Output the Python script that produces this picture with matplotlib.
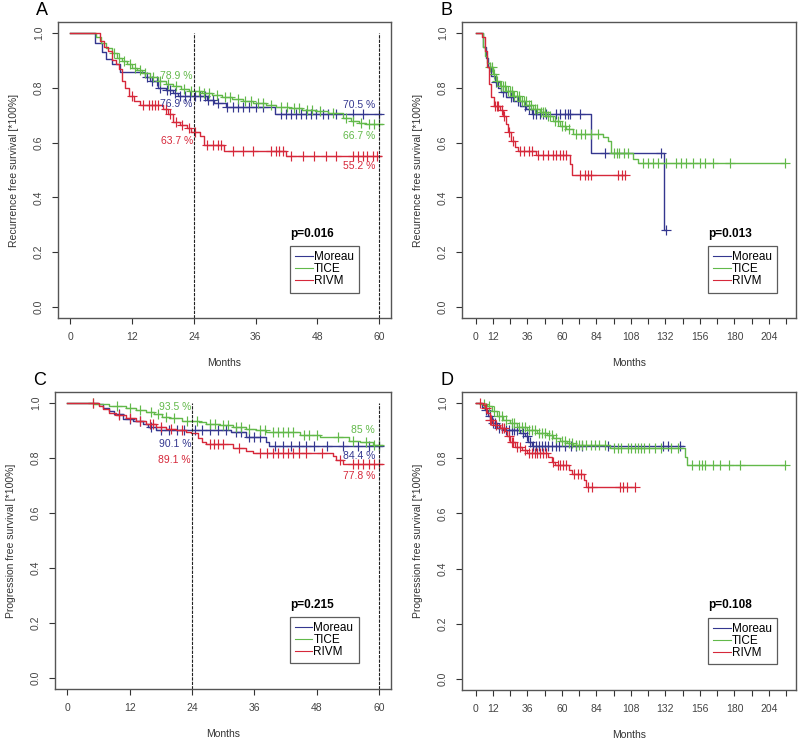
import numpy as np
import matplotlib

matplotlib.use("Agg")
import matplotlib.pyplot as plt  # noqa: E402

plt.rcParams["font.family"] = ["Liberation Sans", "DejaVu Sans"]

BLUE = "#34378f"
GREEN = "#62b94a"
RED = "#d6283a"
GROUPS = ["Moreau", "TICE", "RIVM"]

# ---- Panel A: recurrence free survival, 0-60 months
A_moreau_t = [0, 4.8, 6.1, 7.0, 8.1, 9.7, 14.5, 15.5, 17.0, 18.5, 20.0, 21.0, 26.5, 28.0, 30.3, 39.7, 60.3]
A_moreau_s = [1.0, 0.965, 0.929, 0.905, 0.886, 0.856, 0.84, 0.825, 0.80, 0.79, 0.78, 0.769, 0.757, 0.745, 0.731, 0.705, 0.705]
A_moreau_c = [14.8, 15.8, 16.8, 17.4, 18.7, 19.3, 20.3, 21.3, 22.2, 23.2, 24.2, 25.1, 26.1, 26.8, 27.7, 28.7, 30.5,
              31.6, 32.6, 33.5, 34.8, 36.1, 37.4, 41.0, 41.9, 42.9, 43.9, 44.8, 45.8, 46.8, 47.7, 49.0, 50.0, 51.6,
              54.9, 56.8, 60.0]
A_tice_t = [0, 5.0, 6.0, 7.0, 8.0, 9.0, 10.0, 11.0, 12.0, 13.0, 14.0, 15.5, 17.0, 18.5, 20.0, 21.5, 23.0, 25.5, 27.5,
            29.5, 31.5, 33.5, 35.5, 38.0, 40.0, 42.5, 45.0, 47.5, 50.0, 52.9, 54.5, 56.0, 57.5, 60.5]
A_tice_s = [1.0, 0.985, 0.965, 0.945, 0.925, 0.91, 0.898, 0.885, 0.873, 0.864, 0.855, 0.84, 0.825, 0.815, 0.805, 0.797,
            0.789, 0.78, 0.772, 0.765, 0.758, 0.752, 0.746, 0.738, 0.731, 0.725, 0.719, 0.714, 0.708, 0.69, 0.68,
            0.672, 0.667, 0.667]
A_tice_c = [8.5, 9.5, 10.5, 11.5, 12.5, 13.5, 14.5, 16.0, 17.5, 19.0, 20.5, 22.0, 23.5, 25.0, 26.0, 27.0, 28.5, 30.0,
            31.0, 32.5, 34.0, 35.0, 36.5, 37.5, 39.0, 41.0, 42.0, 43.5, 44.5, 46.0, 47.0, 48.5, 51.0, 53.5, 55.0,
            56.5, 58.0, 59.0, 60.0]
A_rivm_t = [0, 5.8, 6.5, 7.3, 8.0, 8.8, 9.5, 10.0, 10.6, 11.3, 12.3, 13.5, 18.0, 19.0, 20.0, 21.3, 22.6, 23.5, 25.1,
            25.9, 29.8, 41.9, 60.3]
A_rivm_s = [1.0, 0.97, 0.95, 0.935, 0.90, 0.885, 0.868, 0.825, 0.80, 0.771, 0.753, 0.737, 0.722, 0.704, 0.674, 0.665,
            0.653, 0.637, 0.625, 0.59, 0.568, 0.552, 0.552]
A_rivm_c = [11.9, 14.2, 15.2, 15.8, 16.5, 17.1, 18.5, 19.3, 20.6, 21.6, 23.0, 24.3, 26.5, 27.7, 28.7, 29.3, 31.6, 33.5,
            35.5, 39.0, 39.9, 40.6, 41.3, 42.9, 45.1, 47.4, 49.6, 51.6, 54.9, 55.8, 56.8, 57.7, 58.7, 59.6]

# ---- Panel B: recurrence free survival, full follow-up
B_moreau_t = [0, 5.1, 7.0, 8.6, 10.9, 13.2, 15.5, 17.9, 21.3, 26.0, 30.6, 35.3, 39.4, 80.5, 130.8, 132.7]
B_moreau_s = [1.0, 0.95, 0.91, 0.874, 0.844, 0.82, 0.80, 0.783, 0.765, 0.753, 0.735, 0.722, 0.704, 0.562, 0.282, 0.282]
B_moreau_c = [14.4, 19.0, 24.8, 29.5, 34.1, 37.0, 39.9, 42.2, 44.5, 46.9, 49.2, 56.1, 58.4, 61.9, 64.3, 65.9, 72.4,
              89.8, 128.8, 132.7]
B_tice_t = [0, 5.1, 6.3, 7.9, 9.7, 12.1, 14.4, 16.7, 21.3, 26.0, 30.6, 35.3, 39.9, 44.5, 49.2, 53.8, 58.4, 63.0, 67.7,
            88.5, 92.0, 94.3, 109.3, 112.8, 214.9]
B_tice_s = [1.0, 0.947, 0.916, 0.89, 0.874, 0.85, 0.825, 0.807, 0.789, 0.771, 0.753, 0.738, 0.722, 0.71, 0.698, 0.68,
            0.662, 0.65, 0.631, 0.62, 0.607, 0.562, 0.541, 0.524, 0.524]
B_tice_c = [10, 11.5, 13, 15, 17.5, 19, 20.5, 22.5, 24, 25.5, 27, 28.5, 30, 32, 33.5, 35, 37, 38.5, 41, 43, 45.5, 47,
            48.5, 50.5, 52, 55, 57, 60, 62, 65, 70, 73, 76, 80, 85, 96, 98, 100, 103, 106, 116.4, 119.9, 123.4,
            126.8, 132.7, 139.6, 143.1, 146.5, 151.2, 155.8, 159.3, 165.1, 176.7, 214.9]
B_rivm_t = [0, 4.6, 6.3, 7.9, 9.3, 10.9, 12.8, 16.7, 19.0, 20.9, 22.5, 24.8, 27.1, 29.5, 42.2, 65.4, 67.3, 103.7]
B_rivm_s = [1.0, 0.985, 0.935, 0.874, 0.813, 0.765, 0.735, 0.72, 0.698, 0.668, 0.638, 0.607, 0.583, 0.568, 0.553,
            0.523, 0.48, 0.48]
B_rivm_c = [13.5, 14.5, 15.5, 18.0, 20.0, 23.0, 26.0, 31.0, 33.8, 36.8, 39.1, 43.4, 46.8, 50.3, 53.8, 56.1, 58.4,
            60.7, 63.0, 72.4, 75.9, 78.2, 80.5, 99.0, 101.5, 103.7]

# ---- Panel C: progression free survival, 0-60 months
C_moreau_t = [0, 5.8, 6.8, 8.0, 9.0, 10.6, 12.6, 14.5, 15.5, 17.0, 31.5, 34.4, 38.3, 38.8, 60.5]
C_moreau_s = [1.0, 0.995, 0.983, 0.971, 0.959, 0.941, 0.935, 0.923, 0.911, 0.901, 0.894, 0.876, 0.858, 0.844, 0.844]
C_moreau_c = [10.0, 12.0, 14.0, 16.0, 18.0, 19.5, 21.0, 22.5, 24.5, 26.0, 27.5, 29.0, 30.5, 32.5, 33.5, 35.0, 36.0,
              37.0, 40.0, 41.5, 43.0, 44.5, 46.0, 47.5, 50.0, 53.0, 56.0, 58.0, 60.0]
C_tice_t = [0, 5.1, 8.0, 11.3, 13.2, 15.1, 16.7, 18.3, 19.6, 22.0, 25.4, 26.7, 29.3, 31.8, 34.4, 36.3, 38.3, 44.7,
            48.6, 54.3, 56.3, 58.9, 60.5]
C_tice_s = [1.0, 0.995, 0.99, 0.982, 0.975, 0.966, 0.958, 0.948, 0.944, 0.935, 0.93, 0.924, 0.918, 0.912, 0.906, 0.9,
            0.894, 0.885, 0.876, 0.863, 0.857, 0.848, 0.848]
C_tice_c = [5.0, 9.5, 12.0, 14.0, 16.0, 17.5, 19.0, 20.5, 23.0, 25.0, 27.5, 28.5, 30.0, 31.0, 32.5, 33.5, 35.0, 37.0,
            38.0, 39.5, 40.5, 41.5, 42.5, 43.5, 45.5, 46.5, 48.0, 52.0, 55.0, 57.5, 59.0, 60.0]
C_rivm_t = [0, 6.0, 6.8, 8.0, 9.3, 11.3, 13.2, 15.1, 17.1, 19.0, 20.9, 22.8, 23.8, 25.1, 26.0, 26.7, 31.8, 34.4, 35.7,
            51.1, 51.8, 53.1, 60.5]
C_rivm_s = [1.0, 0.99, 0.977, 0.965, 0.956, 0.947, 0.935, 0.923, 0.913, 0.907, 0.901, 0.896, 0.891, 0.873, 0.858,
            0.849, 0.836, 0.824, 0.818, 0.806, 0.794, 0.778, 0.778]
C_rivm_c = [5.0, 10.0, 12.0, 14.0, 15.8, 16.5, 18.0, 20.0, 22.0, 27.5, 28.3, 29.0, 30.0, 33.0, 37.0, 38.5, 39.5, 40.5,
            41.5, 42.5, 43.5, 44.5, 46.0, 49.0, 52.5, 55.0, 56.0, 57.0, 58.0, 59.0, 60.0]

# ---- Panel D: progression free survival, full follow-up
D_moreau_t = [0, 4.5, 6.4, 8.7, 11.1, 14.6, 19.2, 30.8, 34.3, 36.6, 39.0, 144.4]
D_moreau_s = [1.0, 0.985, 0.976, 0.952, 0.927, 0.909, 0.903, 0.891, 0.879, 0.86, 0.845, 0.845]
D_moreau_c = [7, 10, 12, 13.5, 16, 18, 21, 23, 25, 27, 28.5, 33, 35.5, 38, 40, 42, 44, 46, 48, 50, 53, 56, 58, 62,
              66, 70, 74, 92.3, 130.6, 134.1, 142.2]
D_tice_t = [0, 4.0, 7.6, 11.1, 14.6, 19.2, 23.9, 28.5, 35.5, 42.5, 49.4, 54.1, 58.7, 63.4, 68.0, 93.5, 145.5, 146.7,
            215.3]
D_tice_s = [1.0, 0.995, 0.988, 0.97, 0.952, 0.94, 0.927, 0.915, 0.903, 0.891, 0.883, 0.873, 0.863, 0.855, 0.849,
            0.836, 0.806, 0.776, 0.776]
D_tice_c = [6, 9, 12.5, 16, 18, 21, 25, 27, 30, 32, 34, 37, 39, 41, 44, 46, 48, 51, 53, 56, 60, 62, 65, 67, 70, 72,
            74, 77, 80, 83, 86, 90, 96, 99, 101, 105.9, 108, 110.5, 112.8, 115.1, 117.4, 120.9, 124.4, 129, 136,
            140.6, 150.3, 155, 157.3, 159.6, 165.4, 170, 175.9, 184, 215.3]
D_rivm_t = [0, 5.3, 6.4, 8.1, 9.9, 12.3, 16.9, 20.4, 21.6, 23.9, 27.4, 32.0, 35.5, 50.6, 52.9, 55.3, 64.6, 66.9, 75.5,
            76.5, 110.8]
D_rivm_s = [1.0, 0.994, 0.982, 0.964, 0.939, 0.921, 0.909, 0.897, 0.879, 0.86, 0.842, 0.83, 0.818, 0.806, 0.788,
            0.776, 0.758, 0.743, 0.721, 0.697, 0.697]
D_rivm_c = [3, 7, 10, 11, 14, 18, 19.5, 23, 25, 26, 29, 30.5, 34, 37, 39, 41, 43, 45, 47, 49, 54, 57, 59, 61, 63,
            68.5, 71, 73, 78.4, 80.7, 100.5, 102.8, 105.1, 110.9]

P_VALUES = ["p=0.016", "p=0.013", "p=0.215", "p=0.108"]
LETTERS = ["A", "B", "C", "D"]
YLABELS = ["Recurrence free survival [*100%]", "Recurrence free survival [*100%]",
           "Progression free survival [*100%]", "Progression free survival [*100%]"]

# percentages printed at 24 and 60 months (panels A and C)
A_pct_left = [("78.9 %", 0.844, GREEN), ("76.9 %", 0.742, BLUE), ("63.7 %", 0.604, RED)]
A_pct_right = [("70.5 %", 0.738, BLUE), ("66.7 %", 0.625, GREEN), ("55.2 %", 0.513, RED)]
C_pct_left = [("93.5 %", 0.984, GREEN), ("90.1 %", 0.851, BLUE), ("89.1 %", 0.791, RED)]
C_pct_right = [("85 %", 0.90, GREEN), ("84.4 %", 0.807, BLUE), ("77.8 %", 0.734, RED)]


def km(ax, t, s, cens, color, label):
    t = np.asarray(t, float)
    s = np.asarray(s, float)
    ax.step(t, s, where="post", color=color, lw=1.0, label=label)
    cens = np.asarray(cens, float)
    idx = np.searchsorted(t, cens, side="right") - 1
    ax.plot(cens, s[idx], ls="none", marker="+", ms=6.5, mew=0.85, color=color)


def style(ax, short):
    ax.set_ylim(-0.04, 1.04)
    ax.set_yticks([0.0, 0.2, 0.4, 0.6, 0.8, 1.0])
    ax.set_yticklabels(["0.0", "0.2", "0.4", "0.6", "0.8", "1.0"])
    if short:
        ax.set_xlim(-2.4, 62.3)
        ax.set_xticks([0, 12, 24, 36, 48, 60])
    else:
        ax.set_xlim(-9.5, 222.8)
        ticks = list(range(0, 217, 12))
        shown = {0, 12, 36, 60, 84, 108, 132, 156, 180, 204}
        ax.set_xticks(ticks)
        ax.set_xticklabels([str(v) if v in shown else "" for v in ticks])
    ax.tick_params(axis="both", direction="out", length=4, width=0.8, colors="#333333",
                   labelsize=7.5, labelcolor="#444444")
    ax.tick_params(axis="x", pad=6)
    ax.tick_params(axis="y", pad=6, labelrotation=90)
    for lab in ax.get_yticklabels():
        lab.set_va("center")
    for sp in ax.spines.values():
        sp.set_color("#555555")
        sp.set_linewidth(1.0)
    ax.set_xlabel("Months", fontsize=7.5, color="#333333")
    ax.xaxis.set_label_coords(0.5, -0.135)


fig = plt.figure(figsize=(8, 7.45), dpi=100)
rects = [[0.0725, 0.5732, 0.4163, 0.3973], [0.5775, 0.5732, 0.4175, 0.3973],
         [0.06875, 0.0752, 0.42, 0.3987], [0.5775, 0.0738, 0.4175, 0.40]]
panels = [
    [(A_moreau_t, A_moreau_s, A_moreau_c), (A_tice_t, A_tice_s, A_tice_c), (A_rivm_t, A_rivm_s, A_rivm_c)],
    [(B_moreau_t, B_moreau_s, B_moreau_c), (B_tice_t, B_tice_s, B_tice_c), (B_rivm_t, B_rivm_s, B_rivm_c)],
    [(C_moreau_t, C_moreau_s, C_moreau_c), (C_tice_t, C_tice_s, C_tice_c), (C_rivm_t, C_rivm_s, C_rivm_c)],
    [(D_moreau_t, D_moreau_s, D_moreau_c), (D_tice_t, D_tice_s, D_tice_c), (D_rivm_t, D_rivm_s, D_rivm_c)],
]
legend_x = [0.697, 0.737, 0.699, 0.737]
pct = {0: (A_pct_left, A_pct_right), 2: (C_pct_left, C_pct_right)}

for i, rect in enumerate(rects):
    ax = fig.add_axes(rect)
    short = i in (0, 2)
    for (t, s, c), col, name in zip(panels[i], [BLUE, GREEN, RED], GROUPS):
        km(ax, t, s, c, col, name)
    style(ax, short)
    ax.set_ylabel(YLABELS[i], fontsize=7.5, color="#333333")
    ax.yaxis.set_label_coords(-0.117, 0.5)

    if short:
        ax.vlines([24, 60], -0.04, 1.0, colors="#222222", lw=0.8, linestyles=(0, (3, 1)))
        left, right = pct[i]
        for txt, y, col in left:
            ax.text(23.8, y, txt, color=col, fontsize=7.5, ha="right", va="center")
        for txt, y, col in right:
            ax.text(59.2, y, txt, color=col, fontsize=7.5, ha="right", va="center")

    ax.text(legend_x[i], 0.284, P_VALUES[i], transform=ax.transAxes, fontsize=8.5,
            fontweight="bold", ha="left", va="center")
    leg = ax.legend(loc="upper left", bbox_to_anchor=(legend_x[i], 0.243), fontsize=8.5,
                    frameon=True, fancybox=False, edgecolor="#333333", handlelength=1.45,
                    handletextpad=0.1, labelspacing=0.0, borderpad=0.45, borderaxespad=0.0)
    leg.get_frame().set_linewidth(0.9)
    for ln in leg.get_lines():
        ln.set_linewidth(0.8)

    fig.text(rect[0] - 0.027, rect[1] + rect[3] + 0.016, LETTERS[i], fontsize=13,
             ha="left", va="center")

fig.savefig("out.png", dpi=100)
plt.close(fig)
